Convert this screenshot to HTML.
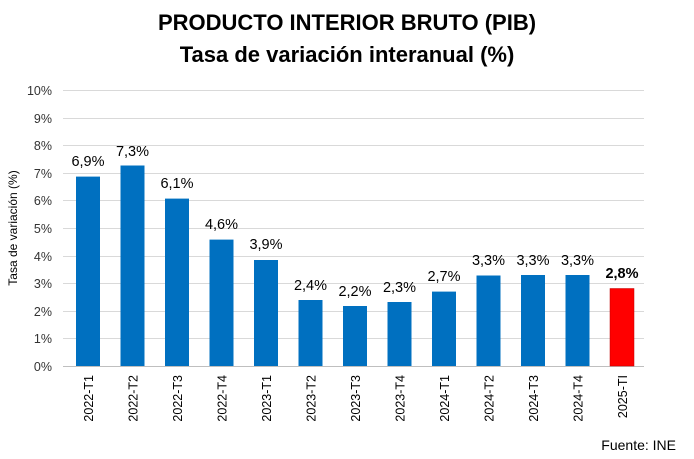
<!DOCTYPE html>
<html><head><meta charset="utf-8"><style>
body{margin:0;background:#fff;}
svg{display:block;font-family:"Liberation Sans",Arial,sans-serif;}
</style></head><body>
<svg width="694" height="459" viewBox="0 0 694 459">
<text x="347" y="30" text-anchor="middle" font-size="22" font-weight="bold" fill="#000">PRODUCTO INTERIOR BRUTO (PIB)</text>
<text x="347" y="62" text-anchor="middle" font-size="22" font-weight="bold" fill="#000">Tasa de variación interanual (%)</text>
<g stroke="#d9d9d9" stroke-width="1">
<line x1="63" x2="644" y1="90.5" y2="90.5"/>
<line x1="63" x2="644" y1="118.5" y2="118.5"/>
<line x1="63" x2="644" y1="145.5" y2="145.5"/>
<line x1="63" x2="644" y1="173.5" y2="173.5"/>
<line x1="63" x2="644" y1="200.5" y2="200.5"/>
<line x1="63" x2="644" y1="228.5" y2="228.5"/>
<line x1="63" x2="644" y1="256.5" y2="256.5"/>
<line x1="63" x2="644" y1="283.5" y2="283.5"/>
<line x1="63" x2="644" y1="311.5" y2="311.5"/>
<line x1="63" x2="644" y1="338.5" y2="338.5"/>
</g>
<line x1="63" x2="644" y1="366.5" y2="366.5" stroke="#bfbfbf"/>
<g font-size="12.5" fill="#333" text-anchor="end">
<text x="52" y="95">10%</text><text x="52" y="123">9%</text><text x="52" y="150">8%</text>
<text x="52" y="178">7%</text><text x="52" y="205">6%</text><text x="52" y="233">5%</text>
<text x="52" y="261">4%</text><text x="52" y="288">3%</text><text x="52" y="316">2%</text>
<text x="52" y="343">1%</text><text x="52" y="371">0%</text>
</g>
<text transform="translate(17,228) rotate(-90)" text-anchor="middle" font-size="12" fill="#000">Tasa de variación (%)</text>
<g fill="#0070c0">
<rect x="76" y="176.6" width="24" height="189.4"/>
<rect x="120.5" y="165.5" width="24" height="200.5"/>
<rect x="165" y="198.6" width="24" height="167.4"/>
<rect x="209.5" y="239.6" width="24" height="126.4"/>
<rect x="254" y="260" width="24" height="106"/>
<rect x="298.5" y="300" width="24" height="66"/>
<rect x="343" y="306" width="24" height="60"/>
<rect x="387.5" y="302" width="24" height="64"/>
<rect x="432" y="291.6" width="24" height="74.4"/>
<rect x="476.5" y="275.5" width="24" height="90.5"/>
<rect x="521" y="275" width="24" height="91"/>
<rect x="565.5" y="275" width="24" height="91"/>
</g>
<rect x="610" y="288.5" width="24" height="77.5" fill="#ff0000" stroke="#c00000" stroke-width="0.5"/>
<g font-size="14.5" fill="#000" text-anchor="middle">
<text x="88" y="166">6,9%</text><text x="132.5" y="156">7,3%</text><text x="177" y="188">6,1%</text>
<text x="221.5" y="229">4,6%</text><text x="266" y="249">3,9%</text><text x="310.5" y="290">2,4%</text>
<text x="355" y="296">2,2%</text><text x="399.5" y="292">2,3%</text><text x="444" y="281">2,7%</text>
<text x="488.5" y="265">3,3%</text><text x="533" y="265">3,3%</text><text x="577.5" y="265">3,3%</text>
<text x="622" y="278" font-weight="bold">2,8%</text>
</g>
<g font-size="12.5" fill="#000" text-anchor="end">
<text transform="translate(93,375) rotate(-90)">2022-T1</text>
<text transform="translate(137.5,375) rotate(-90)">2022-T2</text>
<text transform="translate(182,375) rotate(-90)">2022-T3</text>
<text transform="translate(226.5,375) rotate(-90)">2022-T4</text>
<text transform="translate(271,375) rotate(-90)">2023-T1</text>
<text transform="translate(315.5,375) rotate(-90)">2023-T2</text>
<text transform="translate(360,375) rotate(-90)">2023-T3</text>
<text transform="translate(404.5,375) rotate(-90)">2023-T4</text>
<text transform="translate(449,375) rotate(-90)">2024-T1</text>
<text transform="translate(493.5,375) rotate(-90)">2024-T2</text>
<text transform="translate(538,375) rotate(-90)">2024-T3</text>
<text transform="translate(582.5,375) rotate(-90)">2024-T4</text>
<text transform="translate(627,375) rotate(-90)">2025-TI</text>
</g>
<text x="676" y="450" text-anchor="end" font-size="14" fill="#000">Fuente: INE</text>
</svg>
</body></html>
